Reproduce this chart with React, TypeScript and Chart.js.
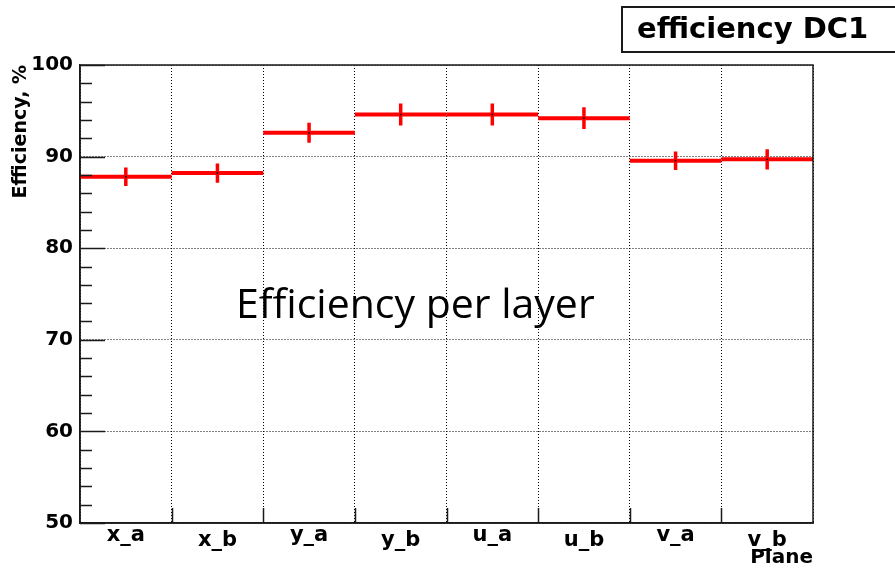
import React, { useEffect, useRef } from 'react';
import { Chart, registerables } from 'chart.js';

Chart.register(...registerables);

// ---- data ----
const planes = ['x_a', 'x_b', 'y_a', 'y_b', 'u_a', 'u_b', 'v_a', 'v_b'];
const efficiency = [87.8, 88.2, 92.6, 94.6, 94.6, 94.2, 89.55, 89.7];
const errors = [1.0, 1.05, 1.1, 1.2, 1.2, 1.2, 1.0, 1.1];
const yMin = 50;
const yMax = 100;
const yMajorStep = 10;
const yMinorStep = 2;
const chartTitle = 'efficiency DC1';
const annotation = 'Efficiency per layer';
const yTitle = 'Efficiency, %';
const xTitle = 'Plane';

const ROOT_FONT = '"DejaVu Sans", "Liberation Sans", sans-serif';
const RED = '#ff0000';
const INK = '#1a1a1a';

const halfBin = (c: any) => {
  const s = c.chart.scales.x;
  if (!s || !s.width) return 0;
  return s.width / planes.length / 2;
};

const errRadius = (c: any) => {
  const s = c.chart.scales.y;
  if (!s || !s.height) return 0;
  const v = efficiency[c.dataIndex];
  const e = errors[c.dataIndex];
  return Math.abs(s.getPixelForValue(v - e) - s.getPixelForValue(v));
};

const rootDecor = {
  id: 'rootDecor',
  afterDraw(chart: any) {
    const { ctx, chartArea: a, scales } = chart;
    const x = scales.x;
    const y = scales.y;
    ctx.save();
    // frame
    ctx.strokeStyle = INK;
    ctx.lineWidth = 1.5;
    ctx.strokeRect(a.left, a.top, a.right - a.left, a.bottom - a.top);
    // y ticks (inside)
    for (let v = yMin; v <= yMax + 1e-9; v += yMinorStep) {
      const py = Math.round(y.getPixelForValue(v)) + 0.5;
      const major = Math.abs(v % yMajorStep) < 1e-6;
      ctx.beginPath();
      ctx.moveTo(a.left, py);
      ctx.lineTo(a.left + (major ? 25 : 12), py);
      ctx.stroke();
    }
    // x ticks at bin edges (inside)
    const bw = (x.right - x.left) / planes.length;
    for (let i = 1; i < planes.length; i++) {
      const px = Math.round(x.getPixelForValue(i) - bw / 2) + 0.5;
      ctx.beginPath();
      ctx.moveTo(px, a.bottom);
      ctx.lineTo(px, a.bottom - 15);
      ctx.stroke();
    }
    // title box
    ctx.lineWidth = 2;
    ctx.strokeStyle = INK;
    ctx.strokeRect(622, 7, 320, 45);
    ctx.fillStyle = '#000';
    ctx.font = 'bold 29px ' + ROOT_FONT;
    ctx.textAlign = 'left';
    ctx.textBaseline = 'alphabetic';
    ctx.fillText(chartTitle, 637, 38);
    // overlay annotation
    ctx.font = '41px "Open Sans", Lato, sans-serif';
    ctx.fillText(annotation, 236, 318);
    ctx.restore();
  },
};

export default function App() {
  const ref = useRef<HTMLCanvasElement | null>(null);

  useEffect(() => {
    document.body.style.margin = '0';
    const canvas = ref.current;
    if (!canvas) return;
    const chart = new Chart(canvas, {
      type: 'line',
      data: {
        labels: planes,
        datasets: [
          {
            label: 'center',
            data: efficiency,
            showLine: false,
            pointStyle: 'circle',
            pointRadius: 0.9,
            pointBackgroundColor: '#000',
            pointBorderWidth: 0,
            order: 0,
          } as any,
          {
            label: 'error',
            data: efficiency,
            showLine: false,
            pointStyle: 'line',
            pointRotation: 90,
            pointRadius: errRadius,
            pointBorderColor: RED,
            pointBorderWidth: 3.5,
            order: 1,
          } as any,
          {
            label: 'bins',
            data: efficiency,
            showLine: false,
            pointStyle: 'line',
            pointRadius: halfBin,
            pointBorderColor: RED,
            pointBorderWidth: 4,
            order: 2,
          } as any,
        ],
      },
      options: {
        responsive: false,
        devicePixelRatio: 1,
        animation: false,
        events: [],
        layout: { autoPadding: false, padding: { top: 65, right: 82, left: 0, bottom: 0 } },
        plugins: { legend: { display: false }, tooltip: { enabled: false }, title: { display: false } },
        scales: {
          x: {
            type: 'category',
            offset: true,
            grid: { offset: true, drawTicks: false, color: '#000', lineWidth: 1 },
            border: { display: true, color: INK, width: 1.5, dash: [1, 2] },
            ticks: {
              color: '#000',
              padding: 0,
              maxRotation: 0,
              autoSkip: false,
              font: (c: any) => ({
                family: ROOT_FONT,
                size: 21,
                weight: 'bold',
                lineHeight: c.index % 2 ? 1.68 : 1.18,
              }),
            },
            title: {
              display: true,
              text: xTitle,
              align: 'end',
              color: '#000',
              font: { family: ROOT_FONT, size: 20, weight: 'bold', lineHeight: 1 },
              padding: 0,
            },
            afterFit: (s: any) => {
              s.height = 45;
            },
          },
          y: {
            min: yMin,
            max: yMax,
            grid: { drawTicks: false, color: '#000', lineWidth: 1 },
            border: { display: true, color: INK, width: 1.5, dash: [1, 2] },
            ticks: {
              stepSize: yMajorStep,
              padding: 7,
              color: '#000',
              font: { family: ROOT_FONT, size: 20, weight: 'bold' },
            },
            title: {
              display: true,
              text: yTitle,
              align: 'end',
              color: '#000',
              font: { family: ROOT_FONT, size: 19, weight: 'bold', lineHeight: 1.2 },
              padding: { top: 10, bottom: 0 },
            },
            afterFit: (s: any) => {
              s.width = 80;
            },
          },
        },
      } as any,
      plugins: [rootDecor],
    });
    return () => chart.destroy();
  }, []);

  return (
    <div style={{ position: 'absolute', left: 0, top: 0, width: 895, height: 568, background: '#fff' }}>
      <canvas ref={ref} width={895} height={568} style={{ display: 'block', width: 895, height: 568 }} />
    </div>
  );
}
